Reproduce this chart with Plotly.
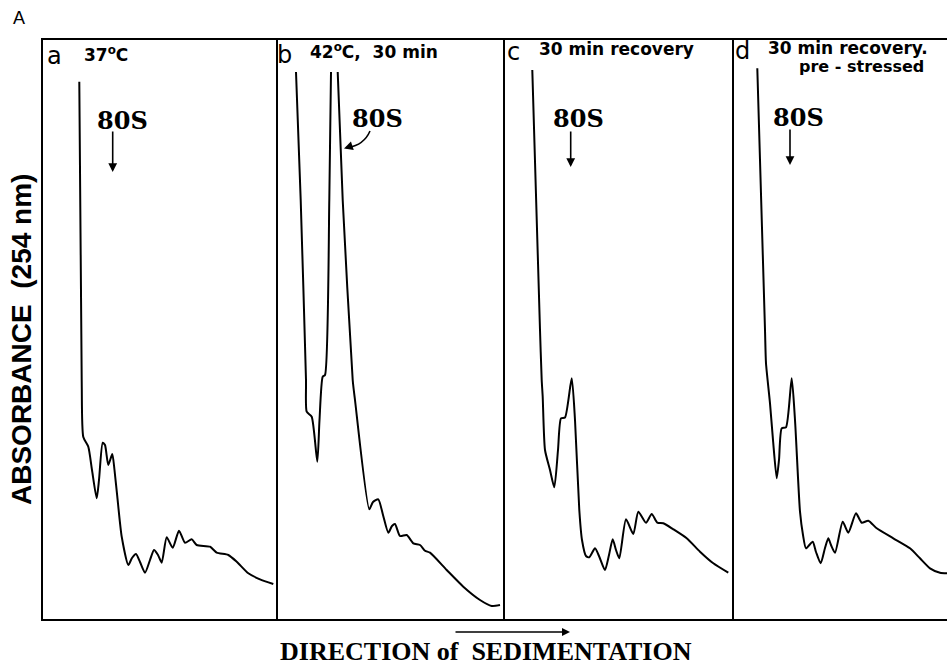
import plotly.graph_objects as go

# ---------------- data ----------------
# x: distance along gradient (a.u., from top of tube), y: absorbance at 254 nm (a.u.)
panel_ids = ["a", "b", "c", "d"]
panel_titles = ["37<sup>o</sup>C", "42<sup>o</sup>C,\u00a0 30 min", "30 min recovery",
                "30 min recovery."]
panel_d_subtitle = "pre - stressed"

a_x = [36.8, 39.2, 40.8, 45.8, 49.5, 54.2, 56.5, 60.2, 62.5, 65.8, 69.8, 72.0, 74.8, 79.2, 85.8,
       89.5, 93.5, 97.5, 102.5, 107.5, 111.5, 115.5, 119.2, 124.2, 130.2, 136.5, 142.5, 149.2,
       154.2, 167.5, 174.2, 185.8, 194.2, 205.8, 217.5, 230.8]
a_y = [536.8, 238.5, 181.5, 171.8, 148.5, 120.2, 138.5, 175.8, 173.5, 153.5, 164.5, 148.5, 121.8,
       81.8, 53.5, 60.5, 64.5, 56.5, 45.8, 58.5, 68.5, 63.5, 55.8, 81.2, 70.8, 87.8, 75.8, 79.2,
       73.5, 71.8, 65.8, 63.5, 56.8, 45.2, 39.2, 34.5]

b_x = [18.5, 23.2, 28.5, 29.2, 34.2, 39.8, 42.0, 45.2, 47.5, 51.8, 53.5, None,
       60.2, 65.2, 75.2, 77.5, 91.8, 95.5, 100.8, 105.5, 110.8, 114.5, 117.5, 122.5, 129.2,
       135.8, 142.5, 147.5, 152.5, 169.2, 185.8, 202.5, 214.2, 222.5]
b_y = [546.5, 418.5, 238.5, 206.8, 201.8, 156.8, 198.5, 241.8, 243.5, 418.5, 546.5, None,
       546.5, 418.5, 238.5, 218.5, 109.2, 116.5, 119.2, 103.5, 85.8, 92.5, 94.5, 82.5, 83.5,
       75.2, 73.5, 67.8, 65.8, 48.5, 31.8, 18.5, 12.5, 13.5]

c_x = [27.3, 35.0, 36.7, 37.7, 40.0, 45.0, 49.3, 53.0, 56.0, 60.0, 66.7, 70.0, 74.3, 77.0, 81.0,
       84.3, 90.0, 94.3, 100.0, 104.0, 107.7, 111.0, 114.3, 121.0, 128.3, 133.3, 141.0, 146.7,
       152.3, 158.3, 168.3, 181.7, 195.0, 208.3, 223.3]
c_y = [548.5, 288.5, 238.5, 221.8, 168.5, 148.5, 131.2, 168.5, 200.2, 201.0, 240.2, 198.5, 108.5,
       78.5, 62.5, 61.2, 70.2, 61.8, 48.5, 63.5, 79.2, 68.5, 60.2, 99.2, 84.5, 106.8, 95.8, 104.5,
       95.8, 95.2, 89.2, 80.2, 66.8, 55.2, 45.8]

d_x = [23.8, 31.5, 32.5, 36.5, 39.5, 43.2, 45.5, 48.2, 52.5, 58.2, 61.5, 66.5, 69.5, 72.5, 79.2,
       82.5, 87.2, 91.5, 94.8, 97.5, 101.5, 109.2, 114.8, 122.5, 128.2, 134.8, 143.2, 159.8,
       176.5, 186.5, 196.5, 206.5, 213.5]
d_y = [550.2, 288.5, 255.2, 215.2, 178.5, 140.2, 158.5, 190.2, 191.2, 240.2, 198.5, 106.8, 83.5,
       70.2, 76.8, 66.5, 55.2, 70.5, 80.2, 73.5, 65.8, 96.8, 85.8, 105.2, 95.8, 97.8, 90.2, 80.2,
       70.2, 60.2, 50.2, 45.8, 45.2]

series_x = [a_x, b_x, c_x, d_x]
series_y = [a_y, b_y, c_y, d_y]
x_ranges = [235.0, 227.5, 228.5, 213.5]
y_range = 578.5

# ---------------- layout helpers ----------------
W, H = 947, 665
def X(px):
    return px / W
def Y(py):
    return 1 - py / H

left_edges = [42.5, 277.5, 505.0, 733.5]
right_edges = [277.5, 505.0, 733.5, 947.0]
top_px, bot_px = 40.0, 618.5

fig = go.Figure()
layout = dict(width=W, height=H, autosize=False,
              margin=dict(l=0, r=0, t=0, b=0),
              paper_bgcolor="white", plot_bgcolor="white",
              showlegend=False)

for i in range(4):
    n = "" if i == 0 else str(i + 1)
    fig.add_trace(go.Scatter(x=series_x[i], y=series_y[i], mode="lines",
                             line=dict(color="black", width=2, shape="spline", smoothing=0.6),
                             connectgaps=False, xaxis="x" + n, yaxis="y" + n,
                             hoverinfo="skip"))
    layout["xaxis" + n] = dict(domain=[X(left_edges[i]), X(right_edges[i])],
                               range=[0, x_ranges[i]], anchor="y" + n,
                               showline=True, mirror=True, linecolor="black", linewidth=2,
                               showticklabels=False, ticks="", showgrid=False, zeroline=False,
                               fixedrange=True)
    layout["yaxis" + n] = dict(domain=[Y(bot_px), Y(top_px)], range=[0, y_range],
                               anchor="x" + n, showline=True, mirror=False,
                               linecolor="black", linewidth=2,
                               showticklabels=False, ticks="", showgrid=False, zeroline=False,
                               fixedrange=True)

fig.update_layout(**layout)

sans = "DejaVu Sans"
serif = "DejaVu Serif"
ann = []
# panel letters
for lx, ly, t in [(54, 56, "a"), (284, 55, "b"), (513, 52, "c"), (742, 51, "d")]:
    ann.append(dict(x=X(lx), y=Y(ly), xref="paper", yref="paper", text=t, showarrow=False,
                    font=dict(family=sans, size=24, color="black"),
                    xanchor="center", yanchor="middle"))
# panel titles
for (tx, ty), t in zip([(82, 54), (308, 51), (537, 49), (766, 48)], panel_titles):
    ann.append(dict(x=X(tx), y=Y(ty), xref="paper", yref="paper", text="<b>" + t + "</b>",
                    showarrow=False, align="left",
                    font=dict(family=sans, size=17, color="black"),
                    xanchor="left", yanchor="middle"))
ann.append(dict(x=X(797), y=Y(66), xref="paper", yref="paper",
                text="<b>" + panel_d_subtitle + "</b>", showarrow=False,
                font=dict(family=sans, size=16, color="black"),
                xanchor="left", yanchor="middle"))
# 80S labels
for sx, sy in [(122, 120), (377, 118), (578, 118), (798, 117)]:
    ann.append(dict(x=X(sx), y=Y(sy), xref="paper", yref="paper", text="<b>80S</b>",
                    showarrow=False, font=dict(family=serif, size=24, color="black"),
                    xanchor="center", yanchor="middle"))
# straight arrows
for axp, y0, y1 in [(112.7, 130, 172), (570.7, 130, 167), (790, 128, 165)]:
    ann.append(dict(x=X(axp), y=Y(y1), xref="paper", yref="paper", text="",
                    showarrow=True, arrowhead=2, arrowsize=1.1, arrowwidth=1.6,
                    arrowcolor="black", ax=0, ay=-(y1 - y0)))
# curved arrow head in panel b
ann.append(dict(x=X(344), y=Y(148.5), xref="paper", yref="paper", text="",
                showarrow=True, arrowhead=2, arrowsize=1.1, arrowwidth=1.6,
                arrowcolor="black", ax=9, ay=-3))
# axis titles
ann.append(dict(x=X(21), y=Y(340), xref="paper", yref="paper",
                text="<b>ABSORBANCE\u00a0 (254 nm)</b>", textangle=-90, showarrow=False,
                font=dict(family="Liberation Sans", size=28, color="black"),
                xanchor="center", yanchor="middle"))
ann.append(dict(x=X(486), y=Y(651), xref="paper", yref="paper",
                text="<b>DIRECTION of\u00a0 SEDIMENTATION</b>", showarrow=False,
                font=dict(family="Liberation Serif", size=26, color="black"),
                xanchor="center", yanchor="middle"))
ann.append(dict(x=X(570), y=Y(632), xref="paper", yref="paper", text="",
                showarrow=True, arrowhead=2, arrowsize=1.0, arrowwidth=1.6,
                arrowcolor="black", ax=-116, ay=0))
ann.append(dict(x=X(19), y=Y(18), xref="paper", yref="paper", text="A", showarrow=False,
                font=dict(family="Liberation Sans", size=18, color="black"),
                xanchor="center", yanchor="middle"))
fig.update_layout(annotations=ann)

# curved arrow stem in panel b
fig.add_shape(type="path", xref="paper", yref="paper",
              path=f"M {X(370)} {Y(131)} Q {X(364)} {Y(145)} {X(348)} {Y(147.5)}",
              line=dict(color="black", width=1.6))

fig.write_html("out.html", config={"displayModeBar": False},
               post_script="document.body.style.margin='0px';")
